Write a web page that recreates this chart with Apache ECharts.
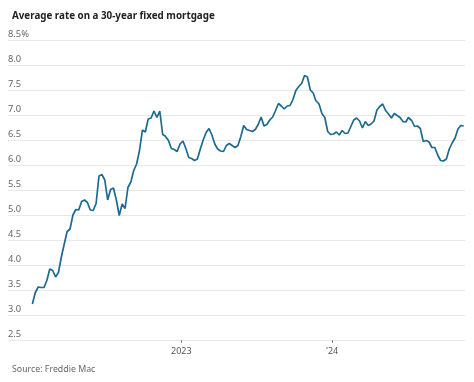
<!DOCTYPE html>
<html>
<head>
<meta charset="utf-8">
<script src="https://cdn.jsdelivr.net/npm/echarts@6/dist/echarts.min.js"></script>
<style>html,body{margin:0;padding:0;background:#fff;}#c{width:474px;height:382px;}</style>
</head>
<body>
<div id="c"></div>
<script>
const title = 'Average rate on a 30-year fixed mortgage';
const source = 'Source: Freddie Mac';
const yTicks = [2.5, 3.0, 3.5, 4.0, 4.5, 5.0, 5.5, 6.0, 6.5, 7.0, 7.5, 8.0, 8.5];
const xTickDates = ['2023-01-01', '2024-01-01'];
const xTickLabels = ['2023', '\u201924'];

const dates2022 = ['2022-01-06','2022-01-13','2022-01-20','2022-01-27','2022-02-03','2022-02-10','2022-02-17','2022-02-24','2022-03-03','2022-03-10','2022-03-17','2022-03-24','2022-03-31','2022-04-07','2022-04-14','2022-04-21','2022-04-28','2022-05-05','2022-05-12','2022-05-19','2022-05-26','2022-06-02','2022-06-09','2022-06-16','2022-06-23','2022-06-30','2022-07-07','2022-07-14','2022-07-21','2022-07-28','2022-08-04','2022-08-11','2022-08-18','2022-08-25','2022-09-01','2022-09-08','2022-09-15','2022-09-22','2022-09-29','2022-10-06','2022-10-13','2022-10-20','2022-10-27','2022-11-03','2022-11-10','2022-11-17','2022-11-23','2022-12-01','2022-12-08','2022-12-15','2022-12-22','2022-12-29'];
const rates2022 = [3.22,3.45,3.56,3.55,3.55,3.69,3.92,3.89,3.76,3.85,4.16,4.42,4.67,4.72,5.00,5.11,5.10,5.27,5.30,5.25,5.10,5.09,5.23,5.78,5.81,5.70,5.30,5.51,5.54,5.30,4.99,5.22,5.13,5.55,5.66,5.89,6.02,6.29,6.70,6.66,6.92,6.94,7.08,6.95,7.08,6.61,6.58,6.49,6.33,6.31,6.27,6.42];

const dates2023 = ['2023-01-05','2023-01-12','2023-01-19','2023-01-26','2023-02-02','2023-02-09','2023-02-16','2023-02-23','2023-03-02','2023-03-09','2023-03-16','2023-03-23','2023-03-30','2023-04-06','2023-04-13','2023-04-20','2023-04-27','2023-05-04','2023-05-11','2023-05-18','2023-05-25','2023-06-01','2023-06-08','2023-06-15','2023-06-22','2023-06-29','2023-07-06','2023-07-13','2023-07-20','2023-07-27','2023-08-03','2023-08-10','2023-08-17','2023-08-24','2023-08-31','2023-09-07','2023-09-14','2023-09-21','2023-09-28','2023-10-05','2023-10-12','2023-10-19','2023-10-26','2023-11-02','2023-11-09','2023-11-16','2023-11-22','2023-11-30','2023-12-07','2023-12-14','2023-12-21','2023-12-28'];
const rates2023 = [6.48,6.33,6.15,6.13,6.09,6.12,6.32,6.50,6.65,6.73,6.60,6.42,6.32,6.28,6.27,6.39,6.43,6.39,6.35,6.39,6.57,6.79,6.71,6.69,6.67,6.71,6.81,6.96,6.78,6.81,6.90,6.96,7.09,7.23,7.18,7.12,7.18,7.19,7.31,7.49,7.57,7.63,7.79,7.76,7.50,7.44,7.29,7.22,7.03,6.95,6.67,6.61];

const dates2024 = ['2024-01-04','2024-01-11','2024-01-18','2024-01-25','2024-02-01','2024-02-08','2024-02-15','2024-02-22','2024-02-29','2024-03-07','2024-03-14','2024-03-21','2024-03-28','2024-04-04','2024-04-11','2024-04-18','2024-04-25','2024-05-02','2024-05-09','2024-05-16','2024-05-23','2024-05-30','2024-06-06','2024-06-13','2024-06-20','2024-06-27','2024-07-03','2024-07-11','2024-07-18','2024-07-25','2024-08-01','2024-08-08','2024-08-15','2024-08-22','2024-08-29','2024-09-05','2024-09-12','2024-09-19','2024-09-26','2024-10-03','2024-10-10','2024-10-17','2024-10-24','2024-10-31','2024-11-07','2024-11-14'];
const rates2024 = [6.62,6.66,6.60,6.69,6.63,6.64,6.77,6.90,6.94,6.88,6.74,6.87,6.79,6.82,6.88,7.10,7.17,7.22,7.09,7.02,6.94,7.03,6.99,6.95,6.87,6.86,6.95,6.89,6.77,6.78,6.73,6.47,6.49,6.46,6.35,6.35,6.20,6.09,6.08,6.12,6.32,6.44,6.54,6.72,6.79,6.78];

const dates = dates2022.concat(dates2023, dates2024);
const rates = rates2022.concat(rates2023, rates2024);
const toT = d => Date.parse(d + 'T00:00:00Z');
const seriesData = dates.map((d, i) => [toT(d), rates[i]]);

const tickTimes = xTickDates.map(toT);
const chart = echarts.init(document.getElementById('c'), null, {renderer: 'canvas'});
const font = '"Noto Sans", "Open Sans", sans-serif';
chart.setOption({
  animation: false,
  title: [
    {text: title, left: 7, top: 6, textStyle: {fontFamily: font, fontSize: 9.8, fontWeight: 'bold', color: '#222'}},
    {text: source, left: 7, bottom: 3, textStyle: {fontFamily: font, fontSize: 8.8, fontWeight: 'normal', color: '#666'}}
  ],
  grid: {left: 8, right: 9, top: 40, bottom: 42, containLabel: false},
  xAxis: {
    type: 'value',
    min: toT('2021-11-08'),
    max: toT('2024-11-17'),
    axisLine: {show: false},
    splitLine: {show: false},
    axisTick: {show: true, customValues: tickTimes, length: 3, lineStyle: {color: '#888'}},
    axisLabel: {
      customValues: tickTimes,
      formatter: function (v) { const i = tickTimes.indexOf(+v); return i >= 0 ? xTickLabels[i] : ''; },
      fontFamily: font, fontSize: 9, color: '#555', margin: 7
    }
  },
  yAxis: {
    type: 'value',
    min: yTicks[0], max: yTicks[yTicks.length - 1], interval: 0.5,
    axisLine: {show: false}, axisTick: {show: false},
    splitLine: {lineStyle: {color: '#e8e8e8', width: 1}},
    axisLabel: {
      inside: true, margin: 0, verticalAlign: 'bottom', padding: [0, 0, 1, 0],
      fontFamily: font, fontSize: 9.3, color: '#666',
      formatter: function (v) { return v === yTicks[yTicks.length - 1] ? v.toFixed(1) + '%' : v.toFixed(1); }
    }
  },
  series: [{
    type: 'line', data: seriesData, showSymbol: false, symbol: 'none',
    lineStyle: {color: '#1d6a8e', width: 1.7}
  }]
});
</script>
</body>
</html>
